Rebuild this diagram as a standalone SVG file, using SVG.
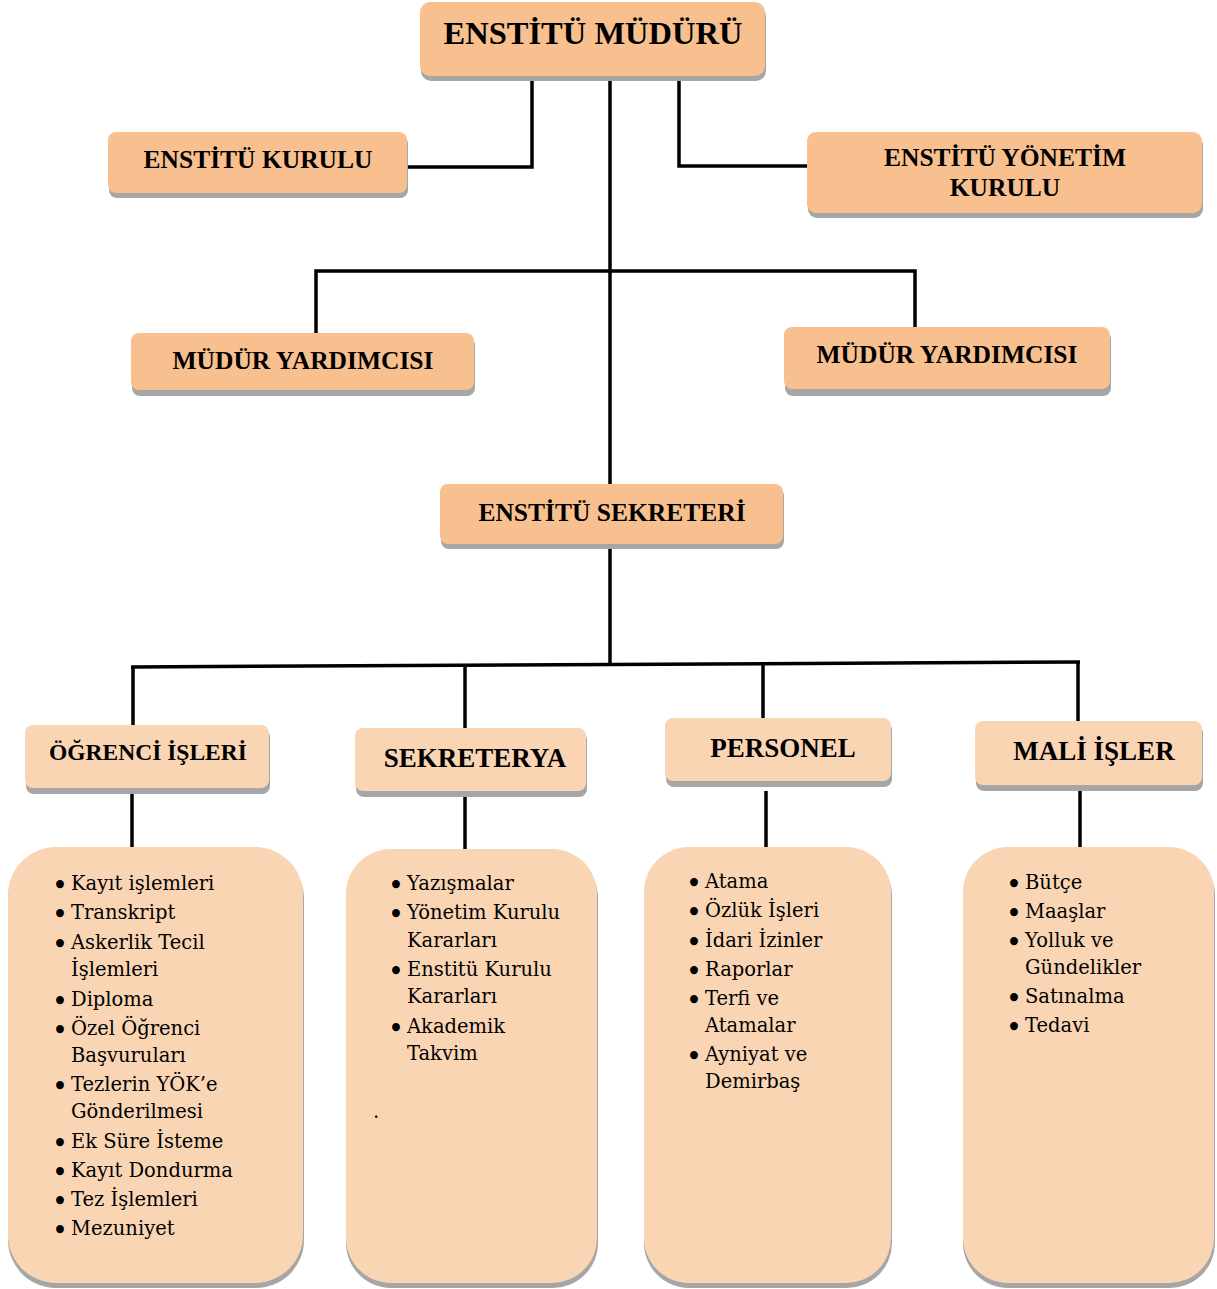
<svg xmlns="http://www.w3.org/2000/svg" width="1217" height="1289" viewBox="0 0 1217 1289">
<style>
.bg{fill:#ffffff}
.sh{fill:#a6a6a6}
.dk{fill:#f9c08f}
.lt{fill:#fad5b4}
.h{font-family:"Liberation Serif","Times New Roman",serif;font-weight:bold;fill:#000;text-anchor:middle}
.l{font-family:"DejaVu Serif",serif;font-size:19.5px;fill:#000}
.b{font-size:27px}
.c{stroke:#000;stroke-width:3.5;fill:none}
</style>
<rect class="bg" width="1217" height="1289"/>
<g id="connectors">
<polyline class="c" points="532,76 532,167 408,167"/>
<line class="c" x1="610" y1="76" x2="610" y2="485"/>
<polyline class="c" points="679,76 679,166 808,166"/>
<polyline class="c" points="316,333 316,271 915,271 915,327"/>
<line class="c" x1="610" y1="548" x2="610" y2="666"/>
<line class="c" x1="131" y1="667" x2="1080" y2="662"/>
<line class="c" x1="133" y1="667" x2="133" y2="726"/>
<line class="c" x1="465" y1="666" x2="465" y2="729"/>
<line class="c" x1="763" y1="664" x2="763" y2="719"/>
<line class="c" x1="1078" y1="662" x2="1078" y2="722"/>
<line class="c" x1="132" y1="792" x2="132" y2="848"/>
<line class="c" x1="465" y1="795" x2="465" y2="850"/>
<line class="c" x1="766" y1="791" x2="766" y2="848"/>
<line class="c" x1="1080" y1="789" x2="1080" y2="847"/>
</g>
<g id="mudur">
<rect class="sh" x="421" y="6" width="345" height="75" rx="10"/>
<rect class="dk" x="420" y="2" width="345" height="74" rx="10"/>
<text class="h" x="593" y="44" font-size="32.5">ENSTİTÜ MÜDÜRÜ</text>
</g>
<g id="kurul">
<rect class="sh" x="109" y="136" width="299" height="62" rx="8"/>
<rect class="dk" x="108" y="132" width="299" height="61" rx="8"/>
<text class="h" x="258" y="168" font-size="25.5">ENSTİTÜ KURULU</text>
</g>
<g id="yonetim">
<rect class="sh" x="808" y="136" width="395" height="82" rx="9"/>
<rect class="dk" x="807" y="132" width="395" height="81" rx="9"/>
<text class="h" x="1005" y="166" font-size="25.5">ENSTİTÜ YÖNETİM</text>
<text class="h" x="1005" y="196" font-size="25.5">KURULU</text>
</g>
<g id="yardimci1">
<rect class="sh" x="132" y="337" width="343" height="59" rx="8"/>
<rect class="dk" x="131" y="333" width="343" height="57" rx="8"/>
<text class="h" x="303" y="369" font-size="25.5">MÜDÜR YARDIMCISI</text>
</g>
<g id="yardimci2">
<rect class="sh" x="785" y="331" width="326" height="65" rx="8"/>
<rect class="dk" x="784" y="327" width="326" height="62" rx="8"/>
<text class="h" x="947" y="363" font-size="25.5">MÜDÜR YARDIMCISI</text>
</g>
<g id="sekreter">
<rect class="sh" x="441" y="488" width="343" height="61" rx="8"/>
<rect class="dk" x="440" y="484" width="343" height="60" rx="8"/>
<text class="h" x="612" y="521" font-size="25.5">ENSTİTÜ SEKRETERİ</text>
</g>
<g id="ogrenci">
<rect class="sh" x="26" y="729" width="244" height="65" rx="8"/>
<rect class="lt" x="25" y="725" width="244" height="63" rx="8"/>
<text class="h" x="148" y="760" font-size="23.5">ÖĞRENCİ İŞLERİ</text>
</g>
<g id="sekreterya">
<rect class="sh" x="356" y="732" width="231" height="65" rx="8"/>
<rect class="lt" x="355" y="728" width="231" height="63" rx="8"/>
<text class="h" x="475" y="767" font-size="27">SEKRETERYA</text>
</g>
<g id="personel">
<rect class="sh" x="666" y="722" width="226" height="65" rx="8"/>
<rect class="lt" x="665" y="718" width="226" height="63" rx="8"/>
<text class="h" x="783" y="757" font-size="27">PERSONEL</text>
</g>
<g id="mali">
<rect class="sh" x="976" y="725" width="227" height="66" rx="8"/>
<rect class="lt" x="975" y="721" width="227" height="64" rx="8"/>
<text class="h" x="1094" y="760" font-size="27">MALİ İŞLER</text>
</g>
<g id="liste-ogrenci">
<rect class="sh" x="8" y="851" width="296" height="437" rx="48"/>
<rect class="lt" x="8" y="847" width="295" height="436" rx="48"/>
<text class="l">
<tspan class="b" x="52" y="895">•</tspan><tspan x="71" y="890">Kayıt işlemleri</tspan>
<tspan class="b" x="52" y="924">•</tspan><tspan x="71" y="919">Transkript</tspan>
<tspan class="b" x="52" y="954">•</tspan><tspan x="71" y="949">Askerlik Tecil</tspan>
<tspan x="71" y="976">İşlemleri</tspan>
<tspan class="b" x="52" y="1011">•</tspan><tspan x="71" y="1006">Diploma</tspan>
<tspan class="b" x="52" y="1040">•</tspan><tspan x="71" y="1035">Özel Öğrenci</tspan>
<tspan x="71" y="1062">Başvuruları</tspan>
<tspan class="b" x="52" y="1096">•</tspan><tspan x="71" y="1091">Tezlerin YÖK’e</tspan>
<tspan x="71" y="1118">Gönderilmesi</tspan>
<tspan class="b" x="52" y="1153">•</tspan><tspan x="71" y="1148">Ek Süre İsteme</tspan>
<tspan class="b" x="52" y="1182">•</tspan><tspan x="71" y="1177">Kayıt Dondurma</tspan>
<tspan class="b" x="52" y="1211">•</tspan><tspan x="71" y="1206">Tez İşlemleri</tspan>
<tspan class="b" x="52" y="1240">•</tspan><tspan x="71" y="1235">Mezuniyet</tspan>
</text>
</g>
<g id="liste-sekreterya">
<rect class="sh" x="346" y="853" width="252" height="435" rx="45"/>
<rect class="lt" x="346" y="849" width="251" height="434" rx="45"/>
<text class="l">
<tspan class="b" x="388" y="895">•</tspan><tspan x="407" y="890">Yazışmalar</tspan>
<tspan class="b" x="388" y="924">•</tspan><tspan x="407" y="919">Yönetim Kurulu</tspan>
<tspan x="407" y="947">Kararları</tspan>
<tspan class="b" x="388" y="981">•</tspan><tspan x="407" y="976">Enstitü Kurulu</tspan>
<tspan x="407" y="1003">Kararları</tspan>
<tspan class="b" x="388" y="1038">•</tspan><tspan x="407" y="1033">Akademik</tspan>
<tspan x="407" y="1060">Takvim</tspan>
<tspan x="373" y="1118">.</tspan>
</text>
</g>
<g id="liste-personel">
<rect class="sh" x="644" y="851" width="248" height="437" rx="45"/>
<rect class="lt" x="644" y="847" width="247" height="436" rx="45"/>
<text class="l">
<tspan class="b" x="686" y="893">•</tspan><tspan x="705" y="888">Atama</tspan>
<tspan class="b" x="686" y="922">•</tspan><tspan x="705" y="917">Özlük İşleri</tspan>
<tspan class="b" x="686" y="952">•</tspan><tspan x="705" y="947">İdari İzinler</tspan>
<tspan class="b" x="686" y="981">•</tspan><tspan x="705" y="976">Raporlar</tspan>
<tspan class="b" x="686" y="1010">•</tspan><tspan x="705" y="1005">Terfi ve</tspan>
<tspan x="705" y="1032">Atamalar</tspan>
<tspan class="b" x="686" y="1066">•</tspan><tspan x="705" y="1061">Ayniyat ve</tspan>
<tspan x="705" y="1088">Demirbaş</tspan>
</text>
</g>
<g id="liste-mali">
<rect class="sh" x="963" y="851" width="252" height="437" rx="45"/>
<rect class="lt" x="963" y="847" width="251" height="436" rx="45"/>
<text class="l">
<tspan class="b" x="1006" y="894">•</tspan><tspan x="1025" y="889">Bütçe</tspan>
<tspan class="b" x="1006" y="923">•</tspan><tspan x="1025" y="918">Maaşlar</tspan>
<tspan class="b" x="1006" y="952">•</tspan><tspan x="1025" y="947">Yolluk ve</tspan>
<tspan x="1025" y="974">Gündelikler</tspan>
<tspan class="b" x="1006" y="1008">•</tspan><tspan x="1025" y="1003">Satınalma</tspan>
<tspan class="b" x="1006" y="1037">•</tspan><tspan x="1025" y="1032">Tedavi</tspan>
</text>
</g>
</svg>
